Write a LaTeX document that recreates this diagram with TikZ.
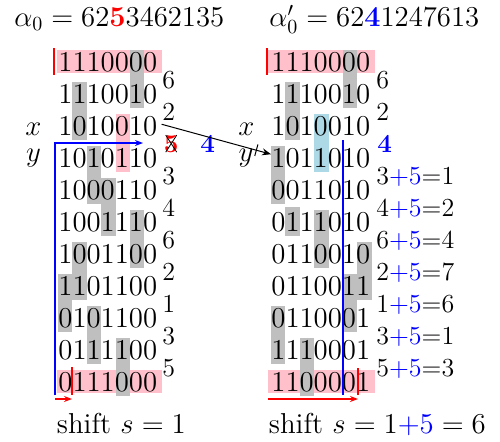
\documentclass[tikz,border=0pt]{standalone}
\usepackage{xcolor}
\usetikzlibrary{arrows.meta,calc}
\definecolor{cellgray}{RGB}{191,191,191}
\definecolor{cellpink}{RGB}{255,192,203}
\definecolor{cellblue}{RGB}{173,216,230}
\begin{document}
\begin{tikzpicture}[x=0.5pt,y=-0.5pt,
  rowtxt/.style={anchor=base west,inner sep=0pt,font=\fontsize{14.4}{17}\selectfont},
  bigtxt/.style={anchor=base west,inner sep=0pt,font=\fontsize{14.4}{17}\selectfont},
  vartxt/.style={anchor=base,inner sep=0pt,font=\fontsize{14.4}{17}\selectfont},
  labtxt/.style={anchor=base west,inner sep=0pt,font=\fontsize{13}{15}\selectfont},
  graycell/.style={fill=cellgray},
  pinkcell/.style={fill=cellpink},
  bluecell/.style={fill=cellblue},
  blueline/.style={blue,line width=0.8pt},
  redbar/.style={red,line width=1pt},
  redarrow/.style={red,line width=0.6pt,-{Stealth[length=4pt,width=3pt]}}]
\useasboundingbox (0,0) rectangle (500,441);

% ---------- backgrounds ----------
\fill[pinkcell] (57,50) rectangle (162,73);
\fill[pinkcell] (57,370) rectangle (162,393);
\fill[pinkcell] (268,50) rectangle (375,73);
\fill[pinkcell] (268,370) rectangle (375,393);
\fill[pinkcell] ({58+14.4*4},113.5) rectangle ++(14.4,58);
\foreach \c/\r in {6/1,2/2,3/4,4/5,6/6,2/7,1/8,3/9,5/10}
  \fill[graycell] ({58+14.4*(\c-1)},{49.5+32*(\r-1)}) rectangle ++(14.4,58);
\fill[bluecell] ({271+14.4*3},113.5) rectangle ++(14.4,58);
\foreach \c/\r in {6/1,2/2,1/4,4/6,7/7,6/8,1/9,3/10}
  \fill[graycell] ({271+14.4*(\c-1)},{49.5+32*(\r-1)}) rectangle ++(14.4,58);
\fill[graycell] ({271+14.4},207) rectangle ++(14.4,29);

% ---------- titles ----------
\node[bigtxt] (tl) at (14,26.5) {$\alpha_0 = 62{\color{red}\mathbf{5}}3462135$};
\node[bigtxt] (tr) at (269,26.5) {$\alpha'_0 = 62{\color{blue}\mathbf{4}}1247613$};

% ---------- rows ----------
\foreach \s [count=\k] in {1110000,1110010,1010010,1010110,1000110,1001110,1001100,1101100,0101100,0111100,0111000}
  \node[rowtxt] (L\k) at (58,{71.5+32*(\k-1)}) {\s};
\foreach \s [count=\k] in {1110000,1110010,1010010,1011010,0011010,0111010,0110010,0110011,0110001,1110001,1100001}
  \node[rowtxt] (R\k) at (271,{71.5+32*(\k-1)}) {\s};

% ---------- x / y labels ----------
\node[vartxt] (xl) at (33.5,135) {$x$};
\node[vartxt] (yl) at (33.5,161) {$y$};
\node[vartxt] (xr) at (246.5,135) {$x$};
\node[vartxt] (yr) at (246,161) {$y$};

% ---------- side numbers ----------
\foreach \k/\t in {0/6,1/2,3/3,4/4,5/6,6/2,7/1,8/3,9/5}
  \node[labtxt] (LN\k) at (162,{88.4+32*\k}) {\t};
\node[labtxt,text=red] (LN2) at (163.5,152) {\textbf{5}};
\draw[black,line width=0.4pt] ($(LN2.center)+(-5.5,-8.5)$) -- ($(LN2.center)+(5.5,8.5)$);
\draw[black,line width=0.4pt] ($(LN2.center)+(5.5,-8.5)$) -- ($(LN2.center)+(-5.5,8.5)$);
\node[labtxt,text=blue] (mid4) at (200,152) {\textbf{4}};

\foreach \k/\t in {0/6,1/2}
  \node[labtxt] (RN\k) at (376,{88.4+32*\k}) {\t};
\node[labtxt,text=blue] (RN2) at (377,152) {\textbf{4}};
\foreach \k/\a/\b in {3/3/1,4/4/2,5/6/4,6/2/7,7/1/6,8/3/1,9/5/3}
  \node[labtxt] (RN\k) at (376,{88.4+32*\k}) {\a\textcolor{blue}{+5}=\b};

% ---------- bottom texts ----------
\node[bigtxt] (sl) at (56.5,433) {shift $s=1$};
\node[bigtxt] (sr) at (268.5,433) {shift $s=1{\color{blue}+5}=6$};

% ---------- blue frames ----------
\coordinate (lb) at (55,395);
\coordinate (lc) at (55,143);
\coordinate (la) at (143,143);
\draw[blueline,-{Stealth[length=4pt,width=3pt]}] (lb) -- (lc) -- (la);
\coordinate (rt) at (343,140);
\coordinate (rb) at (343,395);
\draw[blueline] (rt) -- (rb);

% ---------- red markers ----------
\draw[redbar] (54,48) -- (54,75);
\draw[redbar] (267,48) -- (267,75);
\draw[redbar] (72,367) -- (72,395);
\draw[redbar] (358,368) -- (358,395);
\coordinate (ra1) at (55,399);
\coordinate (ra2) at (72,399);
\coordinate (rb1) at (268,399);
\coordinate (rb2) at (358,399);
\draw[redarrow] (ra1) -- (ra2);
\draw[redarrow] (rb1) -- (rb2);

% ---------- main arrow ----------
\coordinate (as) at ($(L3.east)+(4,-2)$);
\coordinate (ae) at ($(R4.west)+(0,-4)$);
\draw[line width=0.5pt,-{Stealth[length=4.5pt,width=3.5pt]}] (as) -- (ae) coordinate[pos=0.866] (tk);
\draw[line width=0.5pt] ($(tk)!3pt!90:(ae)$) -- ($(tk)!3pt!-90:(ae)$);
\end{tikzpicture}
\end{document}
